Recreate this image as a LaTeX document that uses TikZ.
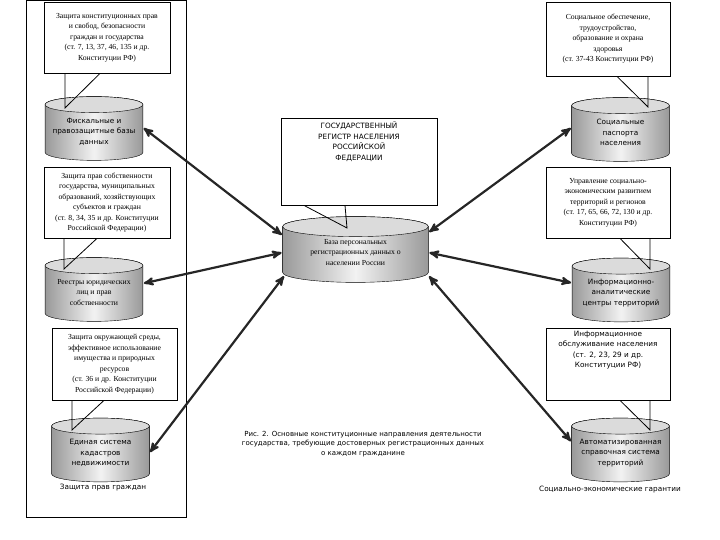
\documentclass[tikz,border=0pt]{standalone}
\usepackage{fontspec}
\setmainfont{Liberation Serif}
\setsansfont{DejaVu Sans}
\usetikzlibrary{arrows,backgrounds,calc}

\newcommand{\notefont}{\fontsize{7.7}{10.5}\selectfont}
\newcommand{\dbfont}{\sffamily\fontsize{7.3}{10.5}\selectfont}
\newcommand{\capfont}{\sffamily\fontsize{7}{9.6}\selectfont}

\begin{document}
\begin{tikzpicture}[x=1pt,y=1pt,line width=0.8pt,
	note/.style={draw,fill=white,align=center,minimum width=126pt,minimum height=71pt,inner sep=2pt,font=\notefont},
	db/.style={align=center,minimum width=97pt,minimum height=41pt,inner sep=0pt,font=\dbfont},
	link/.style={<->,>=stealth',line width=2.2pt,draw=black!85,shorten >=1pt,shorten <=1pt}]
	
	\useasboundingbox (0,0) rectangle (720,540);
	
	% рамка левой колонки
	\draw (26,23) rectangle (186,539.5);
	
	% базы данных
	\node[db] (fisc) at (94,408.5) {Фискальные и\\правозащитные базы\\данных};
	\node[db,font=\notefont] (reestr) at (94,247.5) {Реестры юридических\\лиц и прав\\собственности};
	\node[db] (kadastr) at (100.5,87) {Единая система\\кадастров\\недвижимости};
	\node[db] (pasp) at (620.5,407.5) {Социальные\\паспорта\\населения};
	\node[db] (iac) at (621,247) {Информационно-\\аналитические\\центры территорий};
	\node[db] (asst) at (620.5,87) {Автоматизированная\\справочная система\\территорий};
	\node[db,minimum width=145pt,minimum height=39pt,font=\notefont] (baza) at (355.5,287.5) {База персональных\\регистрационных данных о\\населении России};
	
	\begin{scope}[on background layer]
		\foreach \c/\ry in {fisc/8,reestr/8,kadastr/8,pasp/8,iac/8,asst/8,baza/10}{
			\shadedraw[left color=black!40,right color=black!40,middle color=black!5]
			let \p1=(\c.north west),\p2=(\c.south east),\n1={(\x2-\x1)/2} in
			(\x1,\y1+6pt) -- (\x1,\y2) arc[start angle=180,end angle=360,x radius=\n1,y radius=\ry pt]
			-- (\x2,\y1+6pt) arc[start angle=0,end angle=180,x radius=\n1,y radius=\ry pt] -- cycle;
			\filldraw[fill=black!14]
			let \p1=(\c.north west),\p2=(\c.south east),\n1={(\x2-\x1)/2} in
			(\x1+\n1,\y1+6pt) ellipse[x radius=\n1,y radius=\ry pt];
		}
	\end{scope}
	
	% выноски
	\node[note] (cl1) at (107,502.5) {Защита конституционных прав\\и свобод, безопасности\\граждан и государства\\(ст. 7, 13, 37, 46, 135 и др.\\Конституции РФ)};
	\node[note] (cl2) at (107,337.5) {Защита прав собственности\\государства, муниципальных\\образований, хозяйствующих\\субъектов и граждан\\(ст. 8, 34, 35 и др. Конституции\\Российской Федерации)};
	\node[note,minimum width=125pt,minimum height=72pt] (cl3) at (114.5,176) {Защита окружающей среды,\\эффективное использование\\имущества и природных\\ресурсов\\(ст. 36 и др. Конституции\\Российской Федерации)};
	\node[note,minimum width=124pt,minimum height=74pt] (cr1) at (608,501) {Социальное обеспечение,\\трудоустройство,\\образование и охрана\\здоровья\\(ст. 37-43 Конституции РФ)};
	\node[note,minimum width=124pt] (cr2) at (608,337.5) {Управление социально-\\экономическим развитием\\территорий и регионов\\(ст. 17, 65, 66, 72, 130 и др.\\Конституции РФ)};
	\node[note,minimum width=124pt,minimum height=72pt,font=\dbfont] (cr3) at (608,176) {\parbox[c][66pt][t]{118pt}{\centering Информационное\\обслуживание населения\\(ст. 2, 23, 29 и др.\\Конституции РФ)}};
	\node[note,minimum width=156pt,minimum height=87pt,font=\dbfont] (cc) at (359,378.5) {\parbox[c][81pt][t]{150pt}{\centering\vspace{1pt}ГОСУДАРСТВЕННЫЙ\\РЕГИСТР НАСЕЛЕНИЯ\\РОССИЙСКОЙ\\ФЕДЕРАЦИИ}};
	
	% хвосты выносок
	\coordinate (t1) at (65,432);
	\coordinate (t2) at (64,271);
	\coordinate (t3) at (72,110);
	\coordinate (t4) at (648,433);
	\coordinate (t5) at (650,271);
	\coordinate (t6) at (650,110);
	\coordinate (t7) at (347,312);
	\draw (cl1.south -| t1) -- (t1) -- ($(cl1.south -| t1)+(35,0)$);
	\draw (cl2.south -| t2) -- (t2) -- ($(cl2.south -| t2)+(33,0)$);
	\draw (cl3.south -| t3) -- (t3) -- ($(cl3.south -| t3)+(32,0)$);
	\draw (cr1.south -| t4) -- (t4) -- ($(cr1.south -| t4)+(-31,0)$);
	\draw (cr2.south -| t5) -- (t5) -- ($(cr2.south -| t5)+(-30,0)$);
	\draw (cr3.south -| t6) -- (t6) -- ($(cr3.south -| t6)+(-30,0)$);
	\draw ($(cc.south -| t7)+(-2,0)$) -- (t7) -- ($(cc.south -| t7)+(-43,0)$);
	
	% связи
	\draw[link] ([yshift=17pt]baza.west) -- ([yshift=4pt]fisc.east);
	\draw[link] (baza.west) -- ([yshift=9pt]reestr.east);
	\draw[link] ([xshift=2pt,yshift=-3pt]baza.south west) -- (kadastr.east);
	\draw[link] (baza.north east) -- ([yshift=5pt]pasp.west);
	\draw[link] (baza.east) -- ([yshift=10pt]iac.west);
	\draw[link] ([yshift=-3pt]baza.south east) -- ([yshift=11pt]asst.west);
	
	% подписи
	\node[font=\dbfont] (lgr) at (103,52) {Защита прав граждан};
	\node[font=\dbfont] (rgr) at (610,50) {Социально-экономические гарантии};
	\node[font=\capfont,align=center] (cap) at (363,96) {Рис. 2. Основные конституционные направления деятельности\\государства, требующие достоверных регистрационных данных\\о каждом гражданине};
	
\end{tikzpicture}
\end{document}
